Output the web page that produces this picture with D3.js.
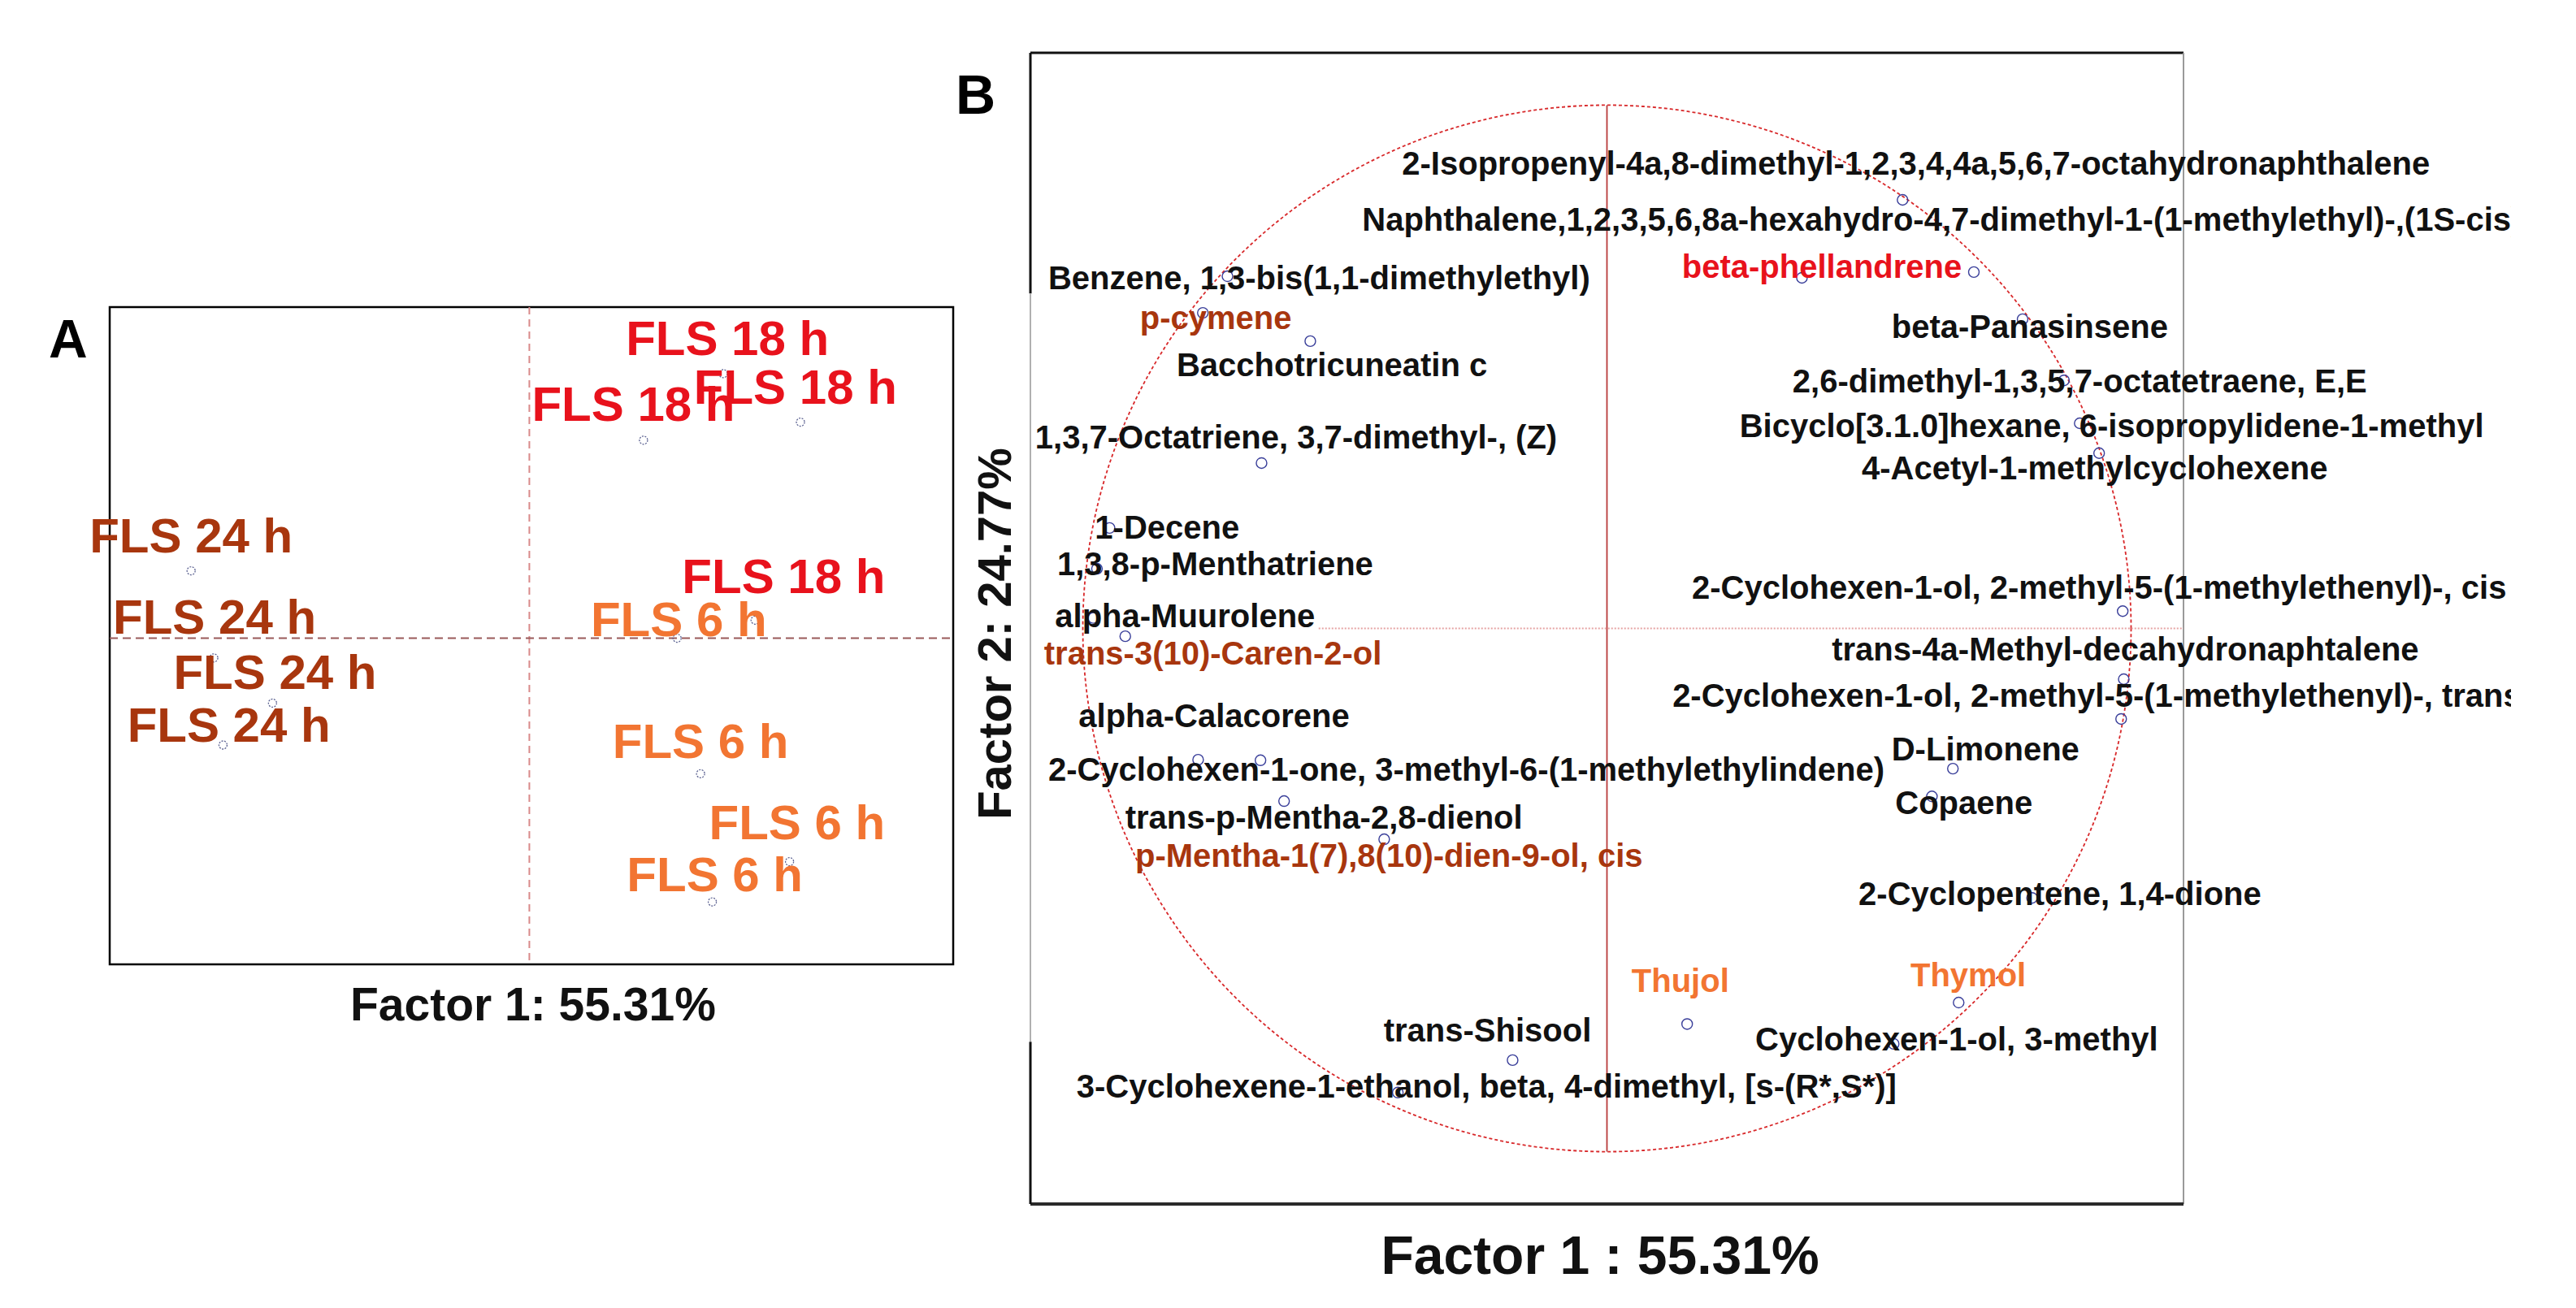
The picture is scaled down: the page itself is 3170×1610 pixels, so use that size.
<!DOCTYPE html>
<html>
<head>
<meta charset="utf-8">
<script src="https://cdn.jsdelivr.net/npm/d3@7"></script>
<style>
  body { margin: 0; background: #fff; }
  text { font-family: "Liberation Sans", Arial, sans-serif; font-weight: bold; }
</style>
</head>
<body>
<div id="chart"></div>
<script>
// ---- Panel A : case scores (Factor 1 x Factor 2) ----
const samplesA = ["FLS 18 h", "FLS 18 h", "FLS 18 h", "FLS 18 h",
                  "FLS 24 h", "FLS 24 h", "FLS 24 h", "FLS 24 h",
                  "FLS 6 h", "FLS 6 h", "FLS 6 h", "FLS 6 h"];
const groupA = ["18", "18", "18", "18", "24", "24", "24", "24", "6", "6", "6", "6"];
const f1A = [2.31, 3.23, 1.36, 2.69, -4.03, -3.76, -3.06, -3.65, 1.76, 2.04, 3.10, 2.18];
const f2A = [3.22, 2.63, 2.41, 0.22, 0.82, -0.24, -0.79, -1.30, 0.00, -1.65, -2.72, -3.21];
// where the label of each case sits (centre of text, baseline), in factor units
const labF1A = [2.36, 3.17, 1.24, 3.03, -4.03, -3.75, -3.03, -3.58, 1.78, 2.04, 3.19, 2.21];
const labF2A = [3.45, 2.85, 2.65, 0.55, 1.04, 0.05, -0.62, -1.26, 0.03, -1.46, -2.45, -3.08];

// ---- Panel B : variable loadings (correlation circle) ----
const varsB = [
  "2-Isopropenyl-4a,8-dimethyl-1,2,3,4,4a,5,6,7-octahydronaphthalene",
  "Naphthalene,1,2,3,5,6,8a-hexahydro-4,7-dimethyl-1-(1-methylethyl)-,(1S-cis)",
  "Benzene, 1,3-bis(1,1-dimethylethyl)",
  "beta-phellandrene",
  "p-cymene",
  "Bacchotricuneatin c",
  "beta-Panasinsene",
  "2,6-dimethyl-1,3,5,7-octatetraene, E,E",
  "1,3,7-Octatriene, 3,7-dimethyl-, (Z)",
  "Bicyclo[3.1.0]hexane, 6-isopropylidene-1-methyl",
  "4-Acetyl-1-methylcyclohexene",
  "1-Decene",
  "1,3,8-p-Menthatriene",
  "2-Cyclohexen-1-ol, 2-methyl-5-(1-methylethenyl)-, cis",
  "alpha-Muurolene",
  "trans-4a-Methyl-decahydronaphtalene",
  "trans-3(10)-Caren-2-ol",
  "2-Cyclohexen-1-ol, 2-methyl-5-(1-methylethenyl)-, trans",
  "alpha-Calacorene",
  "D-Limonene",
  "2-Cyclohexen-1-one, 3-methyl-6-(1-methylethylindene)",
  "Copaene",
  "trans-p-Mentha-2,8-dienol",
  "p-Mentha-1(7),8(10)-dien-9-ol, cis",
  "2-Cyclopentene, 1,4-dione",
  "Thujol",
  "Thymol",
  "trans-Shisool",
  "Cyclohexen-1-ol, 3-methyl",
  "3-Cyclohexene-1-ethanol, beta, 4-dimethyl, [s-(R*,S*)]"
];
// marker of which sample group ("" = none)
const markerB = ["", "", "", "18", "24", "", "", "", "", "", "", "", "", "", "",
                 "", "24", "", "", "", "", "", "", "24", "", "6", "6", "", "", ""];
const f1B = [0.564, 0.372, -0.724, 0.700, -0.771, -0.566, 0.793, 0.872, -0.659, 0.902,
             0.939, -0.949, -0.973, 0.984, -0.980, 0.986, -0.919, 0.981, -0.780, 0.660,
             -0.661, 0.620, -0.616, -0.425, 0.811, 0.153, 0.671, -0.180, 0.547, -0.399];
const f2B = [0.819, 0.670, 0.673, 0.681, 0.603, 0.549, 0.591, 0.474, 0.316, 0.392,
             0.335, 0.192, 0.114, 0.033, 0.020, -0.097, -0.015, -0.173, -0.251, -0.268,
             -0.252, -0.321, -0.330, -0.403, -0.515, -0.756, -0.715, -0.825, -0.794, -0.887];
// label start (left end, baseline) in loading units
const labF1B = [-0.391, -0.467, -1.066, 0.143, -0.891, -0.821, 0.543, 0.354, -1.091, 0.253,
                0.486, -0.977, -1.049, 0.162, -1.053, 0.429, -1.074, 0.125, -1.008, 0.543,
                -1.066, 0.550, -0.919, -0.900, 0.480, 0.047, 0.579, -0.426, 0.283, -1.012];
const labF2B = [0.867, 0.760, 0.648, 0.670, 0.572, 0.482, 0.555, 0.451, 0.344, 0.366,
                0.285, 0.172, 0.102, 0.057, 0.002, -0.061, -0.069, -0.150, -0.189, -0.252,
                -0.291, -0.355, -0.383, -0.455, -0.529, -0.695, -0.684, -0.790, -0.807, -0.897];

const W = 3170, H = 1610;
const groupColor = { "18": "#e8121c", "24": "#a8360e", "6": "#f27532", "": "#111111" };

const svg = d3.select("#chart").append("svg")
  .attr("width", W).attr("height", H)
  .attr("viewBox", [0, 0, W, H]);
svg.append("rect").attr("width", W).attr("height", H).attr("fill", "#fff");

// ================= Panel A =================
const xA = d3.scaleLinear().domain([-5, 5.05]).range([135, 1173]);
const yA = d3.scaleLinear().domain([-3.97, 4.03]).range([1187, 378]);
const gA = svg.append("g");

gA.append("rect")
  .attr("x", xA.range()[0]).attr("y", yA.range()[1])
  .attr("width", xA.range()[1] - xA.range()[0])
  .attr("height", yA.range()[0] - yA.range()[1])
  .attr("fill", "none").attr("stroke", "#000").attr("stroke-width", 2.5);

// zero lines
gA.append("line")
  .attr("x1", xA(0)).attr("x2", xA(0))
  .attr("y1", yA.range()[1]).attr("y2", yA.range()[0])
  .attr("stroke", "#d98a8a").attr("stroke-width", 2).attr("stroke-dasharray", "9,6");
gA.append("line")
  .attr("x1", xA.range()[0]).attr("x2", xA.range()[1])
  .attr("y1", yA(0)).attr("y2", yA(0))
  .attr("stroke", "#9a5a5a").attr("stroke-width", 2).attr("stroke-dasharray", "10,6");

gA.selectAll(".ptA").data(samplesA).enter().append("circle")
  .attr("class", "ptA")
  .attr("cx", (d, i) => xA(f1A[i]))
  .attr("cy", (d, i) => yA(f2A[i]))
  .attr("r", 5)
  .attr("fill", "none").attr("stroke", "#5a6090").attr("stroke-width", 1.3)
  .attr("stroke-dasharray", "2,1.5");

gA.selectAll(".labA").data(samplesA).enter().append("text")
  .attr("class", "labA")
  .attr("x", (d, i) => xA(labF1A[i]))
  .attr("y", (d, i) => yA(labF2A[i]))
  .attr("text-anchor", "middle")
  .attr("font-size", 60)
  .attr("fill", (d, i) => groupColor[groupA[i]])
  .text(d => d);

svg.append("text").attr("x", 60).attr("y", 440)
  .attr("font-size", 66).attr("fill", "#000").text("A");
svg.append("text").attr("x", 656).attr("y", 1256)
  .attr("text-anchor", "middle").attr("font-size", 57).attr("fill", "#111")
  .text("Factor 1: 55.31%");

// ================= Panel B =================
const xB = d3.scaleLinear().domain([-1.1, 1.1]).range([1268, 2687]);
const yB = d3.scaleLinear().domain([-1.1, 1.1]).range([1482, 65]);
const gB = svg.append("g");
const [bx0, bx1] = xB.range();
const [by1, by0] = yB.range();

// frame: mixed black / grey edges as in the figure
gB.append("line").attr("x1", bx0).attr("x2", bx1).attr("y1", by0).attr("y2", by0)
  .attr("stroke", "#111").attr("stroke-width", 3);
gB.append("line").attr("x1", bx1).attr("x2", bx1).attr("y1", by0).attr("y2", by1)
  .attr("stroke", "#9a9a9a").attr("stroke-width", 2);
gB.append("line").attr("x1", bx0).attr("x2", bx1).attr("y1", by1).attr("y2", by1)
  .attr("stroke", "#2a2a2a").attr("stroke-width", 4);
gB.append("line").attr("x1", bx0).attr("x2", bx0).attr("y1", by0).attr("y2", yB(0.64))
  .attr("stroke", "#111").attr("stroke-width", 3);
gB.append("line").attr("x1", bx0).attr("x2", bx0).attr("y1", yB(0.64)).attr("y2", yB(-0.79))
  .attr("stroke", "#b0b0b0").attr("stroke-width", 2);
gB.append("line").attr("x1", bx0).attr("x2", bx0).attr("y1", yB(-0.79)).attr("y2", by1)
  .attr("stroke", "#111").attr("stroke-width", 3);

// unit circle
const circ = d3.range(0, 361, 1).map(a => [Math.cos(a * Math.PI / 180), Math.sin(a * Math.PI / 180)]);
gB.append("path")
  .attr("d", d3.line().x(d => xB(d[0])).y(d => yB(d[1]))(circ))
  .attr("fill", "none").attr("stroke", "#d8282a").attr("stroke-width", 1.8)
  .attr("stroke-dasharray", "4,3");

// axes through origin
gB.append("line").attr("x1", xB(0)).attr("x2", xB(0)).attr("y1", yB(1)).attr("y2", yB(-1))
  .attr("stroke", "#b83a3a").attr("stroke-width", 1.8);
gB.append("line").attr("x1", xB(-0.55)).attr("x2", xB(1.1)).attr("y1", yB(0)).attr("y2", yB(0))
  .attr("stroke", "#e6a3a3").attr("stroke-width", 2).attr("stroke-dasharray", "2,2");

gB.selectAll(".ptB").data(varsB).enter().append("circle")
  .attr("class", "ptB")
  .attr("cx", (d, i) => xB(f1B[i]))
  .attr("cy", (d, i) => yB(f2B[i]))
  .attr("r", 6.5)
  .attr("fill", "none").attr("stroke", "#3a3f9a").attr("stroke-width", 1.4);

// the original figure is cropped on its right side
svg.append("clipPath").attr("id", "clipB")
  .append("rect").attr("x", 0).attr("y", 0).attr("width", 3090).attr("height", H);

gB.append("g").attr("clip-path", "url(#clipB)")
  .selectAll(".labB").data(varsB).enter().append("text")
  .attr("class", "labB")
  .attr("x", (d, i) => xB(labF1B[i]))
  .attr("y", (d, i) => yB(labF2B[i]))
  .attr("font-size", 40)
  .attr("fill", (d, i) => groupColor[markerB[i]])
  .text(d => d);

svg.append("text").attr("x", 1176).attr("y", 140)
  .attr("font-size", 68).attr("fill", "#000").text("B");
svg.append("text").attr("x", 1969).attr("y", 1568)
  .attr("text-anchor", "middle").attr("font-size", 66).attr("fill", "#111")
  .text("Factor 1 : 55.31%");
svg.append("text")
  .attr("transform", `translate(1244,${yB(-0.01)}) rotate(-90)`)
  .attr("text-anchor", "middle").attr("font-size", 58).attr("fill", "#111")
  .text("Factor 2: 24.77%");
</script>
</body>
</html>
